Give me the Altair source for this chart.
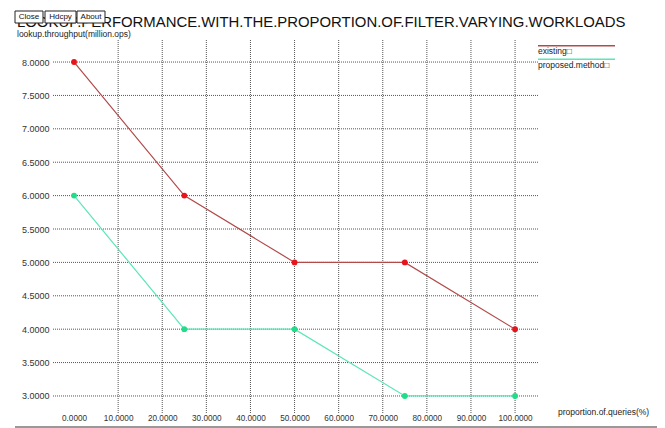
import altair as alt
import pandas as pd

# ---- data ----
x_vals = [0, 25, 50, 75, 100]
existing = [8.0, 6.0, 5.0, 5.0, 4.0]
proposed = [6.0, 4.0, 4.0, 3.0, 3.0]
series_names = ["existing", "proposed.method"]
x_ticks = [0, 10, 20, 30, 40, 50, 60, 70, 80, 90, 100]
y_ticks = [3.0, 3.5, 4.0, 4.5, 5.0, 5.5, 6.0, 6.5, 7.0, 7.5, 8.0]
title_text = "LOOKUP.PERFORMANCE.WITH.THE.PROPORTION.OF.FILTER.VARYING.WORKLOADS"
y_title = "lookup.throughput(million.ops)"
x_title = "proportion.of.queries(%)"
buttons = ["Close", "Hdcpy", "About"]

# ---- style ----
FONT = "Liberation Sans"
line_colors = ["#b24a4a", "#5ce6b8"]
point_colors = ["#e8141c", "#22dd88"]
grid_color = "#555555"

df = pd.DataFrame({
    "x": x_vals * 2,
    "y": existing + proposed,
    "series": [series_names[0]] * len(x_vals) + [series_names[1]] * len(x_vals),
})

xs = alt.Scale(domain=[-5, 105.2], nice=False, zero=False)
ys = alt.Scale(domain=[2.745, 8.33], nice=False, zero=False)

xaxis = alt.Axis(values=x_ticks, format=".4f", grid=False, ticks=False, domain=False,
                 labelFont=FONT, labelFontSize=8.2, labelColor="#333", labelPadding=1,
                 title=None, labelFlush=False, labelOverlap=False)
yaxis = alt.Axis(values=y_ticks, format=".4f", grid=False, ticks=False, domain=False,
                 labelFont=FONT, labelFontSize=9, labelColor="#333", labelPadding=3,
                 title=None, labelOverlap=False)

X = alt.X("x:Q", scale=xs, axis=xaxis)
Y = alt.Y("y:Q", scale=ys, axis=yaxis)

vgrid = alt.Chart(pd.DataFrame({"x": x_ticks[1:]})).mark_rule(
    color=grid_color, strokeDash=[1, 1], strokeWidth=1).encode(x=X)
hgrid = alt.Chart(pd.DataFrame({"y": y_ticks})).mark_rule(
    color=grid_color, strokeDash=[1, 1], strokeWidth=1).encode(y=Y)

lines = alt.Chart(df).mark_line(strokeWidth=1.2).encode(
    x=X, y=Y,
    stroke=alt.Stroke("series:N", scale=alt.Scale(domain=series_names, range=line_colors), legend=None),
    detail="series:N",
)
points = alt.Chart(df).mark_circle(size=34, opacity=1).encode(
    x=X, y=Y,
    fill=alt.Fill("series:N", scale=alt.Scale(domain=series_names, range=point_colors), legend=None),
)

one = pd.DataFrame({"d": [0]})
layers = [vgrid, hgrid, lines, points]

# title
layers.append(alt.Chart(pd.DataFrame({"t": [title_text]})).mark_text(
    font=FONT, fontSize=14.9, color="#111", align="left", baseline="alphabetic").encode(
    text="t:N", x=alt.value(-35), y=alt.value(-13)))

# buttons
btn_spans = [(-37, -9), (-7, 24), (25, 53)]
for label, (bx0, bx1) in zip(buttons, btn_spans):
    layers.append(alt.Chart(one).mark_rect(fill="white", stroke="#222", strokeWidth=1).encode(
        x=alt.value(bx0), x2=alt.value(bx1), y=alt.value(-29), y2=alt.value(-17)))
    layers.append(alt.Chart(pd.DataFrame({"t": [label]})).mark_text(
        font=FONT, fontSize=8, color="#111", align="center", baseline="middle").encode(
        text="t:N", x=alt.value((bx0 + bx1) / 2), y=alt.value(-23)))

# y title
layers.append(alt.Chart(pd.DataFrame({"t": [y_title]})).mark_text(
    font=FONT, fontSize=8.5, color="#222", align="left", baseline="middle").encode(
    text="t:N", x=alt.value(-35), y=alt.value(-6)))

# x title
layers.append(alt.Chart(pd.DataFrame({"t": [x_title]})).mark_text(
    font=FONT, fontSize=8.5, color="#222", align="left", baseline="middle").encode(
    text="t:N", x=alt.value(506), y=alt.value(372)))

# legend
for i, name in enumerate(series_names):
    ly = 5.7 + i * 13.6
    layers.append(alt.Chart(one).mark_rule(color=line_colors[i], strokeWidth=1.5).encode(
        x=alt.value(486), x2=alt.value(563), y=alt.value(ly)))
    layers.append(alt.Chart(pd.DataFrame({"t": [name + "\u25a1"]})).mark_text(
        font=FONT, fontSize=8.5, color="#222", align="left", baseline="middle").encode(
        text="t:N", x=alt.value(486), y=alt.value(ly + 5.3)))

# bottom frame line
layers.append(alt.Chart(one).mark_rule(color="#999", strokeWidth=2).encode(
    x=alt.value(-37), x2=alt.value(620), y=alt.value(387)))

chart = alt.layer(*layers).properties(
    width=486, height=373,
    padding={"left": 44, "top": 32, "right": 119, "bottom": 15},
    autosize=alt.AutoSizeParams(type="none"),
    background="white",
).configure_view(stroke=None)

chart.save("out.html", embed_options={"renderer": "svg", "actions": False})
